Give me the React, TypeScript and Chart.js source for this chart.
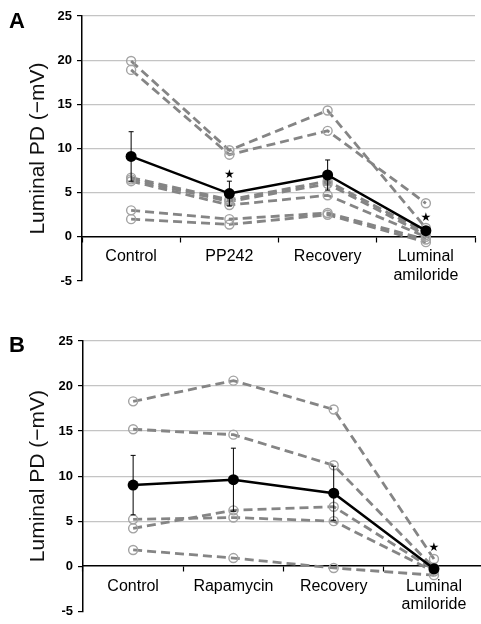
import React, { useEffect, useRef } from 'react';
import { Chart, registerables } from 'chart.js';

Chart.register(...registerables);

const FONT = "'Liberation Sans', Arial, Helvetica, sans-serif";

const yMin = -5;
const yMax = 25;
const yStep = 5;
const yTitle = 'Luminal PD (−mV)';

// Panel A
const categoriesA: (string | string[])[] = ['Control', 'PP242', 'Recovery', ['Luminal', 'amiloride']];
const subjectsA: number[][] = [
  [19.9, 9.8, 14.3, 1.0],
  [18.9, 9.3, 12.0, 3.8],
  [6.7, 4.2, 6.3, 0.5],
  [6.5, 4.0, 6.0, 0.2],
  [6.3, 3.6, 4.7, 0.0],
  [3.0, 2.0, 2.7, -0.3],
  [2.0, 1.4, 2.5, -0.6],
];
const meanA = [9.1, 4.9, 7.0, 0.7];
const semA = [2.8, 1.4, 1.7, 0.3];
const starA: (number | null)[] = [null, 7.0, null, 2.1];

// Panel B
const categoriesB: (string | string[])[] = ['Control', 'Rapamycin', 'Recovery', ['Luminal', 'amiloride']];
const subjectsB: number[][] = [
  [18.3, 20.6, 17.4, 0.8],
  [15.2, 14.6, 11.2, -0.2],
  [4.2, 6.2, 6.6, -0.4],
  [5.2, 5.4, 5.0, -0.6],
  [1.8, 0.9, -0.2, -1.0],
];
const meanB = [9.0, 9.6, 8.1, -0.3];
const semB = [3.3, 3.5, 3.0, 0.3];
const starB: (number | null)[] = [null, null, null, 2.0];

type PanelProps = {
  top: number;
  width: number;
  height: number;
  padTop: number;
  padBottom: number;
  padRight: number;
  yWidth: number;
  categories: (string | string[])[];
  subjects: number[][];
  mean: number[];
  sem: number[];
  stars: (number | null)[];
};

function Panel(p: PanelProps) {
  const ref = useRef<HTMLCanvasElement | null>(null);
  useEffect(() => {
    if (!ref.current) return;
    const errPlugin = {
      id: 'errbars',
      beforeDatasetDraw(chart: any, args: any) {
        if (args.index !== 0) return;
        const { ctx, scales } = chart;
        const xs = scales.x;
        const ys = scales.y;
        ctx.save();
        ctx.strokeStyle = '#000';
        ctx.lineWidth = 1;
        p.mean.forEach((m, i) => {
          const x = xs.getPixelForValue(i);
          const yTop = ys.getPixelForValue(m + p.sem[i]);
          const yBot = ys.getPixelForValue(m - p.sem[i]);
          ctx.beginPath();
          ctx.moveTo(x, yTop);
          ctx.lineTo(x, yBot);
          ctx.moveTo(x - 2.5, yTop);
          ctx.lineTo(x + 2.5, yTop);
          ctx.moveTo(x - 2.5, yBot);
          ctx.lineTo(x + 2.5, yBot);
          ctx.stroke();
        });
        ctx.restore();
      },
      afterDatasetsDraw(chart: any) {
        const { ctx, scales } = chart;
        ctx.save();
        ctx.fillStyle = '#000';
        ctx.font = "12px 'DejaVu Sans', sans-serif";
        ctx.textAlign = 'center';
        ctx.textBaseline = 'middle';
        p.stars.forEach((s, i) => {
          if (s === null) return;
          ctx.fillText('★', scales.x.getPixelForValue(i), scales.y.getPixelForValue(s));
        });
        ctx.restore();
      },
    };
    const chart = new Chart(ref.current, {
      type: 'line',
      data: {
        labels: p.categories as any,
        datasets: [
          {
            label: 'Mean',
            data: p.mean,
            borderColor: '#000',
            backgroundColor: '#000',
            borderWidth: 2.5,
            pointRadius: 5.5,
            pointBackgroundColor: '#000',
            pointBorderColor: '#000',
            pointBorderWidth: 0,
          },
          ...p.subjects.map((s, i) => ({
            label: 'Subject ' + (i + 1),
            data: s,
            borderColor: '#858585',
            borderWidth: 2.8,
            borderDash: [9, 5],
            pointRadius: 4.5,
            pointBorderColor: '#a3a3a3',
            pointBackgroundColor: 'rgba(255,255,255,0)',
            pointBorderWidth: 1.4,
          })),
        ],
      },
      options: {
        animation: false,
        responsive: false,
        maintainAspectRatio: false,
        layout: { padding: { top: p.padTop, bottom: p.padBottom, left: 0, right: p.padRight } },
        plugins: { legend: { display: false }, tooltip: { enabled: false } },
        scales: {
          x: {
            type: 'category',
            position: { y: 0 } as any,
            offset: true,
            grid: {
              offset: true,
              drawOnChartArea: false,
              drawTicks: true,
              tickLength: 5,
              tickColor: '#000',
              tickWidth: 1.2,
            },
            border: { color: '#000', width: 1.5 },
            ticks: {
              color: '#000',
              font: { family: FONT, size: 16, lineHeight: 1.15 },
              padding: 6,
              maxRotation: 0,
              autoSkip: false,
            },
          },
          y: {
            min: yMin,
            max: yMax,
            ticks: {
              stepSize: yStep,
              color: '#000',
              font: { family: FONT, size: 13, weight: 'bold' },
              padding: 5,
            },
            grid: {
              color: (c: any) =>
                c.tick && (c.tick.value === yMin || c.tick.value === 0) ? 'rgba(0,0,0,0)' : '#c4c4c4',
              lineWidth: 1.2,
              tickLength: 5,
              tickColor: '#000',
            },
            border: { color: '#000', width: 1.5 },
            title: {
              display: true,
              text: yTitle,
              color: '#111',
              font: { family: FONT, size: 21 },
              padding: { top: 26, bottom: 0 },
            },
            afterFit: (s: any) => {
              s.width = p.yWidth;
            },
          },
        },
      },
      plugins: [errPlugin],
    });
    return () => chart.destroy();
  }, []);
  return (
    <canvas
      ref={ref}
      width={p.width}
      height={p.height}
      style={{ position: 'absolute', left: 0, top: p.top, width: p.width, height: p.height }}
    />
  );
}

export default function App() {
  const letterStyle: React.CSSProperties = {
    position: 'absolute',
    left: 9,
    fontFamily: FONT,
    fontWeight: 'bold',
    fontSize: 22,
    lineHeight: '22px',
    color: '#000',
  };
  return (
    <div
      style={{
        position: 'absolute',
        left: 0,
        top: 0,
        width: 481,
        height: 624,
        overflow: 'hidden',
        background: '#fff',
      }}
    >
      <Panel
        top={0}
        width={481}
        height={300}
        padTop={16}
        padBottom={19}
        padRight={6}
        yWidth={82}
        categories={categoriesA}
        subjects={subjectsA}
        mean={meanA}
        sem={semA}
        stars={starA}
      />
      <Panel
        top={300}
        width={490}
        height={324}
        padTop={41}
        padBottom={9}
        padRight={5}
        yWidth={83}
        categories={categoriesB}
        subjects={subjectsB}
        mean={meanB}
        sem={semB}
        stars={starB}
      />
      <div style={{ ...letterStyle, top: 10 }}>A</div>
      <div style={{ ...letterStyle, top: 334 }}>B</div>
    </div>
  );
}
